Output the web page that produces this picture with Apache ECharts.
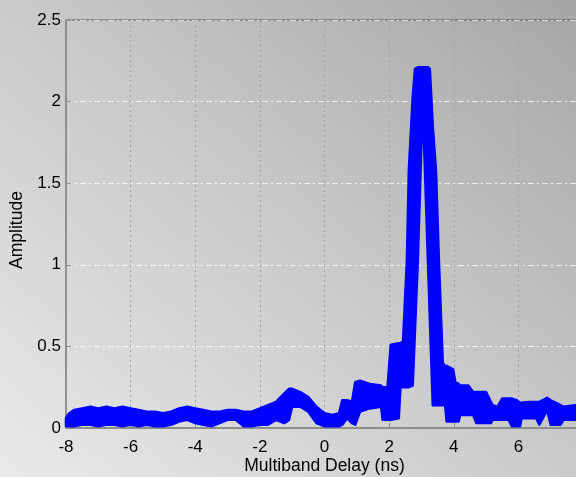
<!DOCTYPE html>
<html>
<head>
<meta charset="utf-8">
<script src="https://cdn.jsdelivr.net/npm/echarts@6/dist/echarts.min.js"></script>
<style>
html,body{margin:0;padding:0;}
body{width:576px;height:477px;background:linear-gradient(to top right,#e9e9e9 0%,#cacaca 50%,#a6a6a6 100%);}
#chart{width:576px;height:477px;}
</style>
</head>
<body>
<div id="chart"></div>
<script>
// Multiband delay (ns) sample positions
const delayNs = [-8.0,-7.9,-7.75,-7.5,-7.25,-7.0,-6.75,-6.5,-6.25,-6.0,-5.75,-5.5,-5.25,-5.0,-4.75,-4.5,-4.25,-4.0,
  -3.75,-3.5,-3.25,-3.0,-2.75,-2.5,-2.25,-2.0,-1.75,-1.5,-1.25,-1.1,-1.0,-0.75,-0.5,-0.25,0.0,
  0.25,0.45,0.55,0.7,0.85,0.95,1.1,1.4,1.75,1.8,1.95,2.05,2.3,2.35,2.43,2.55,2.61,2.73,2.8,2.89,3.01,3.04,3.07,3.2,3.26,3.31,3.35,3.45,3.54,3.66,3.73,3.78,
  3.98,4.05,4.15,4.2,4.45,4.6,4.7,5.0,5.15,5.2,5.35,5.5,5.7,5.8,5.95,6.05,6.1,6.3,6.55,6.65,6.89,7.0,7.15,7.3,7.4,7.75,8.0];
// Upper envelope of the amplitude trace
const upperAmp = [0.06,0.09,0.11,0.12,0.13,0.12,0.13,0.12,0.13,0.12,0.11,0.10,0.10,0.09,0.10,0.12,0.13,0.12,
  0.11,0.10,0.10,0.11,0.11,0.10,0.10,0.12,0.14,0.16,0.21,0.24,0.24,0.22,0.19,0.13,0.09,
  0.08,0.09,0.17,0.17,0.16,0.28,0.29,0.27,0.26,0.25,0.25,0.51,0.52,0.52,0.53,1.03,1.58,2.03,2.20,2.21,2.21,2.21,2.21,2.21,2.20,2.01,1.85,1.58,1.03,0.40,0.38,0.38,
  0.36,0.28,0.27,0.26,0.26,0.22,0.22,0.22,0.16,0.14,0.13,0.18,0.18,0.18,0.17,0.155,0.155,0.16,0.16,0.16,0.185,0.17,0.155,0.14,0.13,0.14,0.13];
// Lower envelope of the amplitude trace
const lowerAmp = [0.01,0.01,0.01,0.02,0.02,0.01,0.02,0.02,0.01,0.02,0.01,0.02,0.01,0.01,0.02,0.04,0.05,0.03,
  0.02,0.01,0.03,0.05,0.05,0.01,0.01,0.02,0.02,0.05,0.03,0.05,0.13,0.13,0.10,0.03,0.01,
  0.01,0.01,0.02,0.06,0.03,0.02,0.10,0.12,0.13,0.05,0.05,0.05,0.06,0.25,0.25,0.25,0.25,0.26,0.60,1.03,1.81,1.84,1.81,1.03,0.67,0.38,0.14,0.14,0.14,0.14,0.14,0.04,
  0.04,0.04,0.04,0.08,0.08,0.08,0.03,0.03,0.03,0.05,0.05,0.05,0.05,0.01,0.01,0.01,0.06,0.06,0.06,0.02,0.11,0.02,0.02,0.02,0.05,0.05,0.05];
const xTicks = {min:-8, max:8, step:2};
const yTicks = {min:0, max:2.5, step:0.5};

const FONT = '"Liberation Sans", Arial, Helvetica, sans-serif';
const BLUE = '#0000ff';

const chart = echarts.init(document.getElementById('chart'), null, {renderer:'canvas'});
chart.setOption({
  animation:false,
  backgroundColor:'transparent',
  grid:{left:66, right:-7, top:20, bottom:49, outerBoundsMode:'none', containLabel:false,
        show:true, borderColor:'#5c5c5c', borderWidth:1, backgroundColor:'transparent'},
  xAxis:{
    type:'value', min:xTicks.min, max:xTicks.max, interval:xTicks.step,
    name:'Multiband Delay (ns)', nameLocation:'middle', nameGap:29, nameMoveOverlap:false,
    nameTextStyle:{fontSize:17.5, color:'#000', fontFamily:FONT},
    axisLine:{onZero:false, lineStyle:{color:'#8c8c8c', width:2}},
    axisTick:{inside:true, length:5, lineStyle:{color:'#8c8c8c', width:1}},
    axisLabel:{margin:11, fontSize:17, color:'#000', fontFamily:FONT},
    splitLine:{show:true, lineStyle:{color:'#a4a4a4', type:[2,3], width:1}}
  },
  yAxis:{
    type:'value', min:yTicks.min, max:yTicks.max, interval:yTicks.step,
    name:'Amplitude', nameLocation:'middle', nameGap:36,
    nameTextStyle:{fontSize:17.5, color:'#000', fontFamily:FONT, padding:[0,12,0,0]},
    axisLine:{onZero:false, lineStyle:{color:'#8c8c8c', width:1.5}},
    axisTick:{inside:true, length:5, lineStyle:{color:'#8c8c8c', width:1}},
    axisLabel:{margin:5, fontSize:17, color:'#000', fontFamily:FONT},
    splitLine:{show:true, lineStyle:{color:'rgba(255,255,255,0.75)', type:[6,3,2,3], width:1}}
  },
  series:[
    {type:'custom', silent:true, z:3,
     data:[[xTicks.min, 0]],
     renderItem:function(params, api){
       // one closed band: upper envelope forward, lower envelope back
       const pts = [];
       for (let i = 0; i < delayNs.length; i++) pts.push(api.coord([delayNs[i], upperAmp[i]]));
       for (let i = delayNs.length - 1; i >= 0; i--) pts.push(api.coord([delayNs[i], lowerAmp[i]]));
       return {type:'polygon', shape:{points:pts},
               style:{fill:BLUE, stroke:BLUE, lineWidth:2.5, lineJoin:'round'}};
     }}
  ]
});
</script>
</body>
</html>
